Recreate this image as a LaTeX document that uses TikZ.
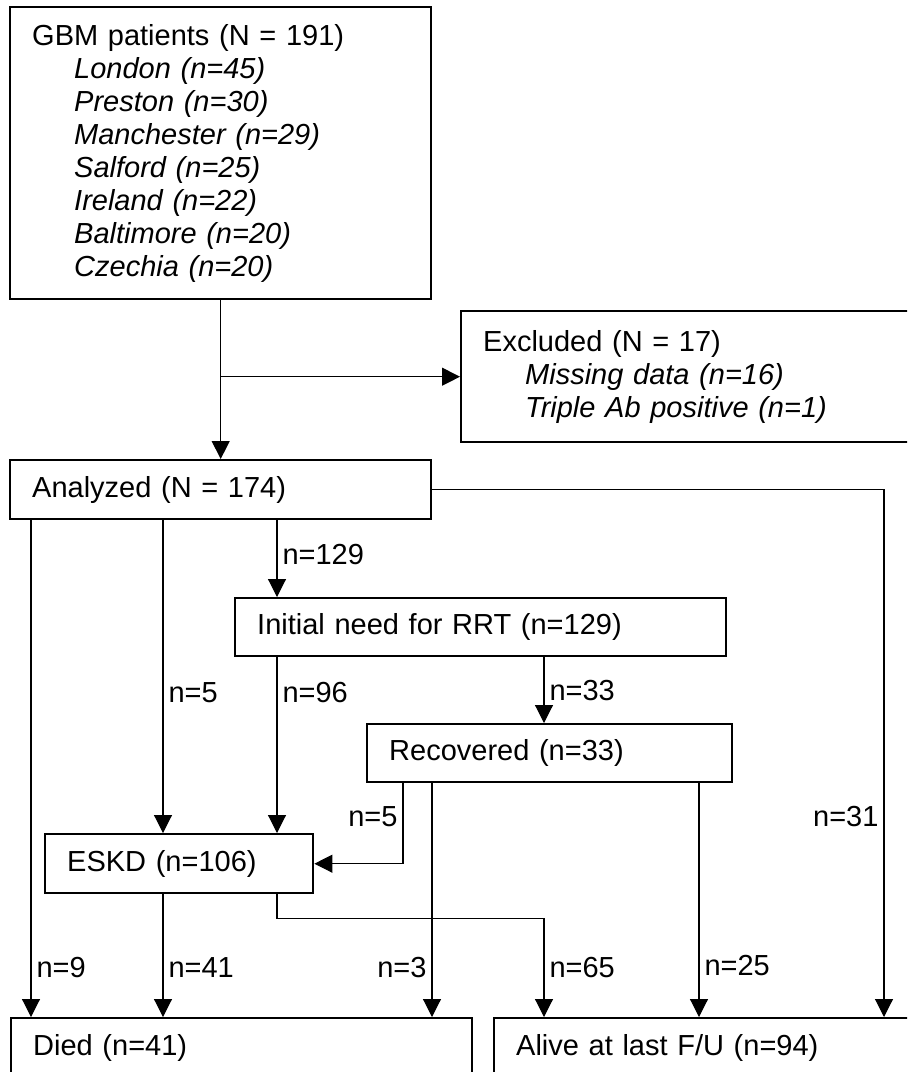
\documentclass[tikz,border=0pt]{standalone}
\usepackage{fontspec}
\setmainfont{Liberation Sans}
\usetikzlibrary{arrows.meta}

\tikzset{box/.style={draw, line width=1.2pt, anchor=north west, inner xsep=11pt, inner ysep=0pt, align=left},
    lab/.style={inner sep=2.5pt},
    arr/.style={-{Triangle[length=9pt,width=9pt]}, line width=0.55pt}}

\begin{document}
\begin{tikzpicture}[x=0.5pt, y=-0.5pt, font=\fontsize{14.5}{16.5}\selectfont]
\useasboundingbox (0,0) rectangle (907,1072);
\clip (0,0) rectangle (907,1072);

%%% boites
\node[box, text width=188.5pt, minimum height=146pt] (gbm) at (9,6) {GBM patients (N = 191)\\
    \hspace*{21pt}\textit{London (n=45)}\\
    \hspace*{21pt}\textit{Preston (n=30)}\\
    \hspace*{21pt}\textit{Manchester (n=29)}\\
    \hspace*{21pt}\textit{Salford (n=25)}\\
    \hspace*{21pt}\textit{Ireland (n=22)}\\
    \hspace*{21pt}\textit{Baltimore (n=20)}\\
    \hspace*{21pt}\textit{Czechia (n=20)}};
\node[box, text width=213pt, minimum height=65.5pt] (excl) at (460,310) {Excluded (N = 17)\\
    \hspace*{21pt}\textit{Missing data (n=16)}\\
    \hspace*{21pt}\textit{Triple Ab positive (n=1)}};
\node[box, text width=188.5pt, minimum height=29.5pt] (ana) at (9,459) {Analyzed (N = 174)};
\node[box, text width=223.5pt, minimum height=29pt] (init) at (234,597) {Initial need for RRT (n=129)};
\node[box, text width=160.5pt, minimum height=29pt] (rec) at (366,723) {Recovered (n=33)};
\node[box, text width=112pt, minimum height=29.5pt] (eskd) at (44,833) {ESKD (n=106)};
\node[box, text width=208.5pt, minimum height=30pt] (died) at (10,1017) {Died (n=41)};
\node[box, text width=196.5pt, minimum height=30pt] (alive) at (493,1017) {Alive at last F/U (n=94)};

%%% colonnes
\coordinate (c1) at (31,0);
\coordinate (c2) at (163,0);
\coordinate (c3) at (277,0);
\coordinate (c4) at (403,0);
\coordinate (c5) at (432,0);
\coordinate (c6) at (544,0);
\coordinate (c7) at (699,0);
\coordinate (c8) at (884,0);

%%% fleches
\draw[arr] (gbm.south) -- (ana.north);
\draw[arr] (gbm.south |- excl.west) -- (excl.west);

\draw[arr] (ana.south -| c1) -- node[lab, right, pos=0.9] {n=9} (died.north -| c1);
\draw[arr] (ana.south -| c2) -- node[lab, right, pos=0.55] {n=5} (eskd.north -| c2);
\draw[arr] (ana.south -| c3) -- node[lab, right, pos=0.45] {n=129} (init.north -| c3);
\draw[arr] (ana.east) -| node[lab, left, pos=0.81] {n=31} (alive.north -| c8);

\draw[arr] (init.south -| c3) -- node[lab, right, pos=0.2] {n=96} (eskd.north -| c3);
\draw[arr] (init.south -| c6) -- node[lab, right, pos=0.5] {n=33} (rec.north -| c6);

\draw[arr] (rec.south -| c4) |- node[lab, left, pos=0.21] {n=5} (eskd.east);
\draw[arr] (rec.south -| c5) -- node[lab, left, pos=0.79] {n=3} (died.north -| c5);
\draw[arr] (rec.south -| c7) -- node[lab, right, pos=0.78] {n=25} (alive.north -| c7);

\draw[arr] (eskd.south -| c2) -- node[lab, right, pos=0.6] {n=41} (died.north -| c2);
\draw[arr] (eskd.south -| c3) -- ++(0,24) -| node[lab, right, pos=0.75] {n=65} (alive.north -| c6);
\end{tikzpicture}
\end{document}
